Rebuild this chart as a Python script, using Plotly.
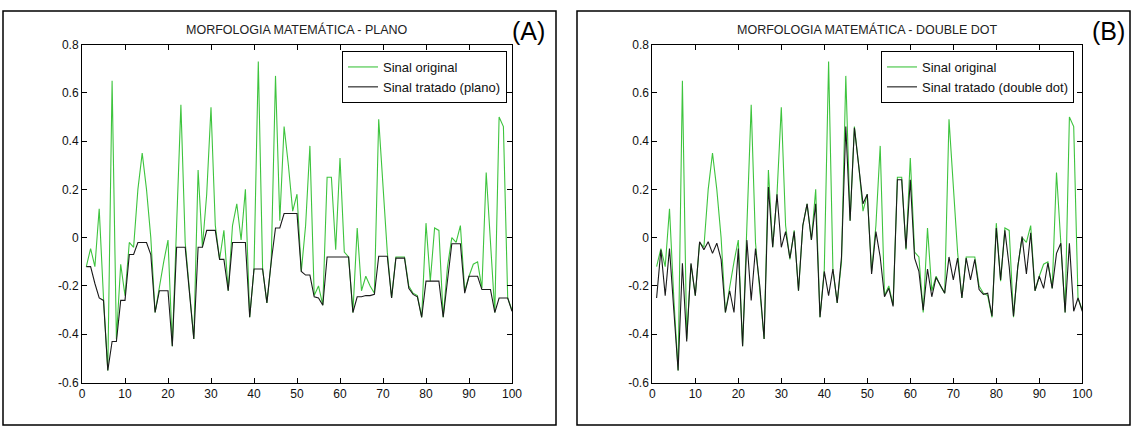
import plotly.graph_objects as go

W, H = 1133, 427

samples = list(range(1, 101))

original = [
    -0.12, -0.045, -0.12, 0.12, -0.25, -0.55, 0.65, -0.42, -0.11, -0.24,
    -0.02, -0.04, 0.20, 0.35, 0.20, 0.00, -0.31, -0.20, -0.10, -0.01,
    -0.45, 0.05, 0.55, -0.02, -0.22, -0.42, 0.28, -0.04, 0.18, 0.54,
    0.05, -0.09, 0.03, -0.22, 0.05, 0.14, -0.01, 0.20, -0.33, -0.13,
    0.73, -0.13, -0.27, -0.10, 0.67, 0.07, 0.46, 0.30, 0.11, 0.18,
    -0.14, 0.05, 0.38, -0.24, -0.20, -0.28, 0.25, 0.25, -0.05, 0.33,
    -0.06, -0.08, -0.31, 0.04, -0.22, -0.16, -0.20, -0.23, 0.49, 0.20,
    -0.06, -0.25, -0.08, -0.08, -0.08, -0.20, -0.23, -0.24, -0.33, 0.06,
    -0.18, 0.04, 0.03, -0.33, -0.12, 0.00, -0.02, 0.05, -0.22, -0.16,
    -0.11, -0.10, -0.21, 0.27, -0.02, -0.31, 0.50, 0.46, -0.25, -0.30,
]

plano = [
    -0.12, -0.12, -0.19, -0.25, -0.26, -0.55, -0.43, -0.43, -0.26, -0.26,
    -0.07, -0.07, -0.02, -0.02, -0.02, -0.07, -0.31, -0.22, -0.22, -0.22,
    -0.45, -0.04, -0.04, -0.04, -0.23, -0.42, -0.04, -0.04, 0.03, 0.03,
    0.03, -0.09, -0.09, -0.22, -0.02, -0.02, -0.02, -0.02, -0.33, -0.13,
    -0.13, -0.13, -0.27, -0.10, 0.04, 0.04, 0.10, 0.10, 0.10, 0.10,
    -0.14, -0.155, -0.155, -0.245, -0.25, -0.28, -0.08, -0.08, -0.08, -0.08,
    -0.08, -0.08, -0.31, -0.245, -0.245, -0.24, -0.24, -0.235, -0.077, -0.077,
    -0.077, -0.25, -0.085, -0.085, -0.085, -0.21, -0.235, -0.245, -0.33, -0.18,
    -0.18, -0.18, -0.18, -0.33, -0.18, -0.025, -0.025, -0.025, -0.23, -0.16,
    -0.16, -0.16, -0.215, -0.215, -0.215, -0.31, -0.25, -0.25, -0.25, -0.305,
]

double_dot = [
    -0.25, -0.05, -0.24, -0.045, -0.30, -0.55, -0.106, -0.43, -0.106, -0.24,
    -0.017, -0.05, -0.017, -0.065, -0.023, -0.09, -0.31, -0.22, -0.31, -0.045,
    -0.45, -0.01, -0.26, -0.045, -0.20, -0.42, 0.21, -0.04, 0.18, -0.04,
    0.025, -0.085, 0.025, -0.22, 0.05, 0.14, -0.01, 0.14, -0.33, -0.14,
    -0.24, -0.13, -0.27, -0.08, 0.46, 0.07, 0.455, 0.30, 0.14, 0.18,
    -0.15, 0.025, -0.08, -0.245, -0.21, -0.285, 0.24, 0.24, -0.045, 0.24,
    -0.085, -0.14, -0.30, -0.13, -0.245, -0.165, -0.20, -0.23, -0.08, -0.175,
    -0.085, -0.25, -0.085, -0.175, -0.09, -0.215, -0.235, -0.23, -0.325, 0.04,
    -0.175, 0.03, -0.12, -0.325, -0.12, 0.005, -0.15, 0.02, -0.22, -0.16,
    -0.21, -0.105, -0.21, -0.065, -0.023, -0.31, -0.023, -0.305, -0.25, -0.305,
]

x_ticks = [0, 10, 20, 30, 40, 50, 60, 70, 80, 90, 100]
y_ticks = [-0.6, -0.4, -0.2, 0, 0.2, 0.4, 0.6, 0.8]
y_tick_text = ["-0.6", "-0.4", "-0.2", "0", "0.2", "0.4", "0.6", "0.8"]

titles = ["MORFOLOGIA MATEMÁTICA - PLANO", "MORFOLOGIA MATEMÁTICA - DOUBLE DOT"]
panel_tags = ["(A)", "(B)"]
legend_names = [["Sinal original", "Sinal tratado (plano)"],
                ["Sinal original", "Sinal tratado (double dot)"]]

GREEN = "#3ec43e"
BLACK = "#1a1a1a"
FONT = "Liberation Sans, Arial, sans-serif"

def px(x):
    return x / W

def py(y):
    return 1 - y / H

plot_left = [82, 652.3]
plot_w = 430
plot_top, plot_bottom = 44.5, 382.5
frames = [(3, 556), (577, 1130)]

fig = go.Figure()

treated = [plano, double_dot]
for i in range(2):
    xa = "x" if i == 0 else "x2"
    ya = "y" if i == 0 else "y2"
    leg = "legend" if i == 0 else "legend2"
    fig.add_trace(go.Scatter(x=samples, y=original, mode="lines",
                             line=dict(color=GREEN, width=1.1),
                             name=legend_names[i][0], xaxis=xa, yaxis=ya, legend=leg))
    fig.add_trace(go.Scatter(x=samples, y=treated[i], mode="lines",
                             line=dict(color=BLACK, width=1.1),
                             name=legend_names[i][1], xaxis=xa, yaxis=ya, legend=leg))

axis_common = dict(showgrid=False, zeroline=False, showline=True, mirror="ticks",
                   linecolor="black", linewidth=1, ticks="inside", ticklen=5,
                   tickcolor="black", automargin=False,
                   tickfont=dict(family=FONT, size=12, color="#111"))

for i in range(2):
    sfx = "" if i == 0 else "2"
    xd = [px(plot_left[i]), px(plot_left[i] + plot_w)]
    yd = [py(plot_bottom), py(plot_top)]
    fig.update_layout(**{
        "xaxis" + sfx: dict(domain=xd, range=[0, 100], tickvals=x_ticks,
                            anchor="y" + sfx, **axis_common),
        "yaxis" + sfx: dict(domain=yd, range=[-0.6, 0.8], tickvals=y_ticks,
                            ticktext=y_tick_text, anchor="x" + sfx, **axis_common),
    })
    cx = plot_left[i] + plot_w / 2
    fig.add_annotation(x=px(cx), y=py(30), xref="paper", yref="paper",
                       text=titles[i], showarrow=False,
                       font=dict(family=FONT, size=12.5, color="#222"),
                       xanchor="center", yanchor="middle")
    tag_x = 528 if i == 0 else 1108
    fig.add_annotation(x=px(tag_x), y=py(31), xref="paper", yref="paper",
                       text=panel_tags[i], showarrow=False,
                       font=dict(family=FONT, size=25, color="black"),
                       xanchor="center", yanchor="middle")
    f0, f1 = frames[i]
    fig.add_shape(type="rect", xref="paper", yref="paper",
                  x0=px(f0), x1=px(f1), y0=py(425), y1=py(11),
                  line=dict(color="black", width=1.5))

legend_common = dict(bgcolor="white", bordercolor="black", borderwidth=1,
                     font=dict(family=FONT, size=13, color="#111"),
                     xanchor="right", yanchor="top", yref="paper", xref="paper",
                     tracegroupgap=0, itemwidth=30)
fig.update_layout(
    legend=dict(x=px(507), y=py(51), **legend_common),
    legend2=dict(x=px(1074), y=py(51), **legend_common),
)

fig.update_layout(width=W, height=H, margin=dict(l=0, r=0, t=0, b=0, pad=0),
                  paper_bgcolor="white", plot_bgcolor="white", showlegend=True)

fig.write_html("out.html", config={"displayModeBar": False},
               post_script="document.body.style.margin='0';document.body.style.overflow='hidden';")
